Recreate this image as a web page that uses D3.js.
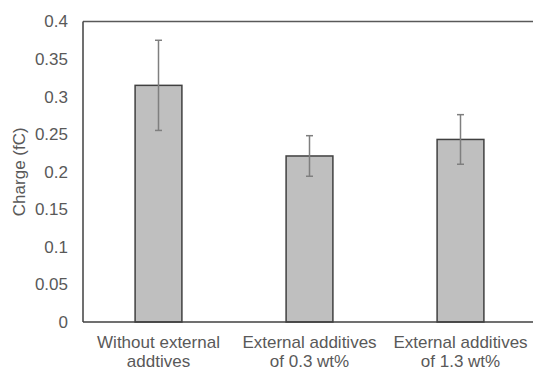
<!DOCTYPE html>
<html lang="en">
<head>
  <meta charset="UTF-8">
  <title>Charge by external additives</title>
  <script src="https://d3js.org/d3.v7.min.js"></script>
  <style>
    body { margin: 0; background: #fff; }
    text { font-family: "Liberation Sans", Arial, sans-serif; fill: #595959; }
  </style>
</head>
<body>
  <div id="chart"></div>
  <script>
    const categories = [
      ["Without external", "addtives"],
      ["External additives", "of 0.3 wt%"],
      ["External additives", "of 1.3 wt%"]
    ];
    const values = [0.315, 0.221, 0.243];
    const errors = [0.06, 0.027, 0.033];
    const yTicks = [0, 0.05, 0.1, 0.15, 0.2, 0.25, 0.3, 0.35, 0.4];

    const W = 533, H = 369;
    const margin = { top: 21.5, right: -3, bottom: 47, left: 83 };
    const width = W - margin.left - margin.right;
    const height = H - margin.top - margin.bottom;

    const svg = d3.select("#chart").append("svg")
      .attr("width", W)
      .attr("height", H);
    const g = svg.append("g")
      .attr("transform", `translate(${margin.left},${margin.top})`);

    const x = d3.scaleBand().domain(d3.range(values.length)).range([0, width]).paddingInner(0.69).paddingOuter(0.345);
    const y = d3.scaleLinear().domain([0, 0.4]).range([height, 0]);

    // frame: top and left
    g.append("line").attr("x1", 0).attr("x2", width).attr("y1", 0).attr("y2", 0)
      .attr("stroke", "#595959").attr("stroke-width", 1.5);
    g.append("line").attr("x1", 0).attr("x2", 0).attr("y1", 0).attr("y2", height)
      .attr("stroke", "#404040").attr("stroke-width", 1.5);

    // bars
    g.selectAll(".bar").data(values).enter().append("rect")
      .attr("x", (d, i) => x(i))
      .attr("y", d => y(d))
      .attr("width", x.bandwidth())
      .attr("height", d => height - y(d))
      .attr("fill", "#bfbfbf")
      .attr("stroke", "#404040")
      .attr("stroke-width", 1.5);

    // error bars
    const eb = g.selectAll(".err").data(values).enter().append("g")
      .attr("stroke", "#7f7f7f").attr("stroke-width", 1.5);
    eb.append("line")
      .attr("x1", (d, i) => x(i) + x.bandwidth() / 2)
      .attr("x2", (d, i) => x(i) + x.bandwidth() / 2)
      .attr("y1", (d, i) => y(d + errors[i]))
      .attr("y2", (d, i) => y(d - errors[i]));
    [1, -1].forEach(s => {
      eb.append("line")
        .attr("x1", (d, i) => x(i) + x.bandwidth() / 2 - 3.5)
        .attr("x2", (d, i) => x(i) + x.bandwidth() / 2 + 3.5)
        .attr("y1", (d, i) => y(d + s * errors[i]))
        .attr("y2", (d, i) => y(d + s * errors[i]));
    });

    // x axis line
    g.append("line").attr("x1", 0).attr("x2", width).attr("y1", height).attr("y2", height)
      .attr("stroke", "#404040").attr("stroke-width", 1.5);

    // y axis labels
    const yAxis = g.append("g")
      .call(d3.axisLeft(y).tickValues(yTicks).tickFormat(d => String(+d.toFixed(2))).tickSize(0).tickPadding(15));
    yAxis.select(".domain").remove();
    yAxis.selectAll("text").style("font-size", "17px").attr("fill", "#595959");

    // category labels
    const xl = g.selectAll(".cat").data(categories).enter().append("text")
      .attr("text-anchor", "middle")
      .attr("x", (d, i) => x(i) + x.bandwidth() / 2)
      .attr("y", height + 26)
      .style("font-size", "17px");
    xl.append("tspan").attr("x", (d, i) => x(i) + x.bandwidth() / 2).text(d => d[0]);
    xl.append("tspan").attr("x", (d, i) => x(i) + x.bandwidth() / 2).attr("dy", 18.5).text(d => d[1]);

    // y axis title
    svg.append("text")
      .attr("transform", `translate(25,${margin.top + height / 2}) rotate(-90)`)
      .attr("text-anchor", "middle")
      .style("font-size", "17px")
      .text("Charge (fC)");
  </script>
</body>
</html>
